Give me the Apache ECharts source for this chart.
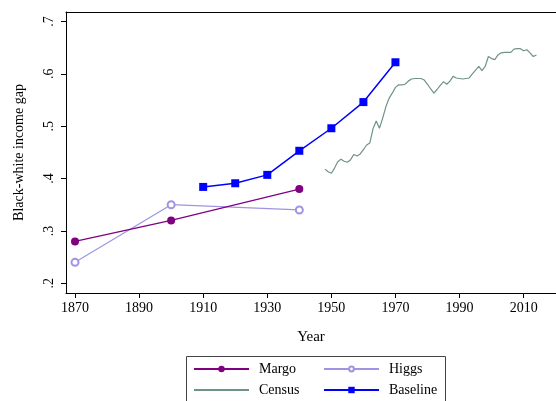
<!DOCTYPE html>
<html>
<head>
<meta charset="utf-8">
<script src="https://cdn.jsdelivr.net/npm/echarts@6/dist/echarts.min.js"></script>
<style>
  html, body { margin: 0; padding: 0; background: #fff; }
  #chart { width: 556px; height: 401px; }
</style>
</head>
<body>
<div id="chart"></div>
<script>
// Historical estimates of the black-white income gap
const margoYears = [1870, 1900, 1940];
const margoValues = [0.28, 0.32, 0.38];

const higgsYears = [1870, 1900, 1940];
const higgsValues = [0.24, 0.35, 0.34];

const baselineYears = [1910, 1920, 1930, 1940, 1950, 1960, 1970];
const baselineValues = [0.384, 0.391, 0.407, 0.453, 0.496, 0.546, 0.622];

// Annual census series, 1948-2014
const censusStartYear = 1948;
const censusValues = [
  0.418, 0.413, 0.410, 0.420, 0.432, 0.437, 0.433, 0.431, 0.436, 0.446,
  0.443, 0.447, 0.455, 0.464, 0.468, 0.495, 0.510, 0.496, 0.515, 0.537,
  0.553, 0.563, 0.574, 0.579, 0.579, 0.580, 0.586, 0.590, 0.591, 0.591,
  0.591, 0.588, 0.580, 0.571, 0.563, 0.570, 0.578, 0.585, 0.580, 0.586,
  0.595, 0.592, 0.591, 0.590, 0.591, 0.592, 0.600, 0.607, 0.614, 0.606,
  0.614, 0.633, 0.629, 0.627, 0.636, 0.640, 0.641, 0.641, 0.641, 0.647,
  0.648, 0.648, 0.644, 0.646, 0.640, 0.633, 0.636
];

const xTicks = [1870, 1890, 1910, 1930, 1950, 1970, 1990, 2010];
const yTicks = [0.2, 0.3, 0.4, 0.5, 0.6, 0.7];

const pairs = (xs, ys) => xs.map((x, i) => [x, ys[i]]);
const censusData = censusValues.map((v, i) => [censusStartYear + i, v]);

const FONT = 'Liberation Serif';
const X_MIN = 1867.19, X_MAX = 2020.1;

const MARGO = '#800080', HIGGS = '#9d95e2', CENSUS = '#6f9484', BASELINE = '#0000ff';

const chart = echarts.init(document.getElementById('chart'), null, { renderer: 'canvas' });

// one legend component per entry so the two columns line up
function legendEntry(name, left, top, markerSize, extra) {
  return Object.assign({
    left: left, top: top, padding: 0,
    itemWidth: 55, itemHeight: markerSize,
    textStyle: { fontFamily: FONT, fontSize: 14, color: '#000', padding: [0, 0, 0, 5] },
    data: [name]
  }, extra || {});
}

chart.setOption({
  animation: false,
  backgroundColor: '#fff',
  textStyle: { fontFamily: FONT, color: '#000' },
  grid: { left: 66, right: 0, top: 12, bottom: 108 },
  xAxis: [
    {
      type: 'value',
      min: X_MIN, max: X_MAX,
      name: 'Year',
      nameLocation: 'middle',
      nameGap: 37,
      nameTextStyle: { fontFamily: FONT, fontSize: 15, color: '#000' },
      axisLine: { lineStyle: { color: '#000', width: 1 } },
      axisTick: { show: true, length: 5, lineStyle: { color: '#000' }, customValues: xTicks },
      axisLabel: {
        customValues: xTicks,
        fontFamily: FONT, fontSize: 14, color: '#000', margin: 8,
        formatter: v => String(v)
      },
      splitLine: { show: false }
    },
    {
      // top edge of the plot frame
      type: 'value', position: 'top',
      min: X_MIN, max: X_MAX,
      axisLine: { show: true, lineStyle: { color: '#000', width: 1 } },
      axisTick: { show: false }, axisLabel: { show: false }, splitLine: { show: false }
    }
  ],
  yAxis: {
    type: 'value',
    min: 0.18144, max: 0.71799,
    name: 'Black-white income gap',
    nameLocation: 'middle',
    nameGap: 40,
    nameRotate: 90,
    nameTextStyle: { fontFamily: FONT, fontSize: 14, color: '#000' },
    axisLine: { show: true, lineStyle: { color: '#000', width: 1 } },
    axisTick: { show: true, length: 5, lineStyle: { color: '#000' }, customValues: yTicks },
    axisLabel: {
      customValues: yTicks,
      rotate: 90,
      fontFamily: FONT, fontSize: 14, color: '#000', margin: 10,
      formatter: v => '.' + Math.round(v * 10)
    },
    splitLine: { show: false }
  },
  legend: [
    legendEntry('Margo', 193, 362, 8),
    legendEntry('Higgs', 323, 362, 6),
    legendEntry('Census', 193, 383, 8, { itemStyle: { opacity: 0 } }),
    legendEntry('Baseline', 323, 383, 8)
  ],
  graphic: [
    {
      type: 'rect',
      shape: { x: 186.5, y: 356.5, width: 259, height: 60 },
      style: { fill: 'none', stroke: '#444', lineWidth: 1 },
      silent: true
    }
  ],
  series: [
    {
      name: 'Margo',
      type: 'line',
      data: pairs(margoYears, margoValues),
      symbol: 'circle', symbolSize: 8,
      itemStyle: { color: MARGO },
      lineStyle: { color: MARGO, width: 1.3 },
      z: 3
    },
    {
      name: 'Higgs',
      type: 'line',
      data: pairs(higgsYears, higgsValues),
      symbol: 'emptyCircle', symbolSize: 7,
      itemStyle: { color: HIGGS, borderWidth: 1.2 },
      lineStyle: { color: HIGGS, width: 1.2 },
      z: 2
    },
    {
      name: 'Census',
      type: 'line',
      data: censusData,
      showSymbol: false, symbol: 'none',
      itemStyle: { color: CENSUS },
      lineStyle: { color: CENSUS, width: 1.2 },
      z: 2
    },
    {
      name: 'Baseline',
      type: 'line',
      data: pairs(baselineYears, baselineValues),
      symbol: 'rect', symbolSize: 8,
      itemStyle: { color: BASELINE },
      lineStyle: { color: BASELINE, width: 1.5 },
      z: 4
    }
  ]
});
</script>
</body>
</html>
